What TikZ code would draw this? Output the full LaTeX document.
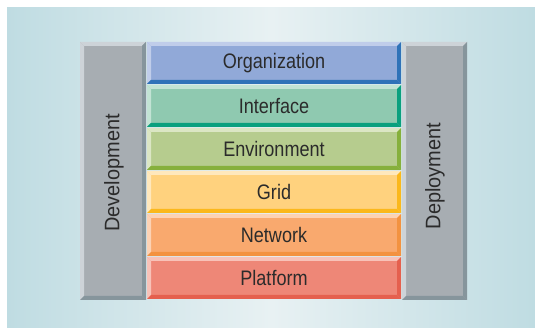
\documentclass[tikz,border=0pt]{standalone}
\usepackage{fontspec}
\setmainfont{Liberation Sans}
\newfontfamily\barfont[FakeStretch=0.86]{Liberation Sans}
\newfontfamily\sidefont[FakeStretch=0.95]{Liberation Sans}
\definecolor{bgside}{HTML}{BFDCE2}
\definecolor{bgmid}{HTML}{E8F1F3}
\definecolor{txt}{HTML}{2B2B2B}
\definecolor{gF}{HTML}{A7ADB2}\definecolor{gL}{HTML}{CDD3D8}\definecolor{gD}{HTML}{86959C}
\definecolor{oF}{HTML}{91A9D8}\definecolor{oL}{HTML}{C0CDEA}\definecolor{oD}{HTML}{2F72B8}
\definecolor{iF}{HTML}{8FC9B0}\definecolor{iL}{HTML}{C2E3D4}\definecolor{iD}{HTML}{0AA07E}
\definecolor{eF}{HTML}{B6CC8E}\definecolor{eL}{HTML}{DBE6C4}\definecolor{eD}{HTML}{86B03C}
\definecolor{rF}{HTML}{FFD27E}\definecolor{rL}{HTML}{FFE8BC}\definecolor{rD}{HTML}{FBB81C}
\definecolor{nF}{HTML}{F9A96E}\definecolor{nL}{HTML}{FCD2B4}\definecolor{nD}{HTML}{F39240}
\definecolor{pF}{HTML}{EE8777}\definecolor{pL}{HTML}{F8C2B8}\definecolor{pD}{HTML}{E5604E}
\newcommand\mybevel[7]{%
  \fill[#5] (#1,#2) rectangle (#3,#4);
  \fill[#6] (#1,#2) -- (#3,#2) -- (#3-4,#2+4) -- (#1+4,#2+4) -- cycle;
  \fill[#6] (#1,#2) -- (#1+4,#2+4) -- (#1+4,#4-4) -- (#1,#4) -- cycle;
  \fill[#7] (#3,#2) -- (#3,#4) -- (#3-4,#4-4) -- (#3-4,#2+4) -- cycle;
  \fill[#7] (#1,#4) -- (#3,#4) -- (#3-4,#4-4) -- (#1+4,#4-4) -- cycle;
}
\tikzset{
  barlabel/.style={text=txt,font=\barfont\fontsize{21}{23}\selectfont,inner sep=0pt,anchor=center},
  sidelabel/.style={text=txt,font=\sidefont\fontsize{21}{23}\selectfont,inner sep=0pt,anchor=center,rotate=90}
}
\begin{document}
\begin{tikzpicture}[x=1pt,y=-1pt]
\useasboundingbox (0,0) rectangle (535,328);
\shade[left color=bgside,right color=bgside,middle color=bgmid] (7,8) rectangle (535,328);
% side panels
\mybevel{80}{42}{146}{300}{gF}{gL}{gD}
\mybevel{402}{42}{467}{300}{gF}{gL}{gD}
\node[sidelabel] (dev) at (114,173) {Development};
\node[sidelabel] (dep) at (435,176) {Deployment};
% bars
\mybevel{147}{42}{401}{84}{oF}{oL}{oD}
\mybevel{147}{85}{401}{127}{iF}{iL}{iD}
\mybevel{147}{128}{401}{170}{eF}{eL}{eD}
\mybevel{147}{171}{401}{213}{rF}{rL}{rD}
\mybevel{147}{214}{401}{256}{nF}{nL}{nD}
\mybevel{147}{257}{401}{299}{pF}{pL}{pD}
\node[barlabel] (org) at (274,63) {Organization};
\node[barlabel] (int) at (274,106) {Interface};
\node[barlabel] (env) at (274,149) {Environment};
\node[barlabel] (grid) at (274,192) {Grid};
\node[barlabel] (net) at (274,235) {Network};
\node[barlabel] (plat) at (274,278) {Platform};
\end{tikzpicture}
\end{document}
